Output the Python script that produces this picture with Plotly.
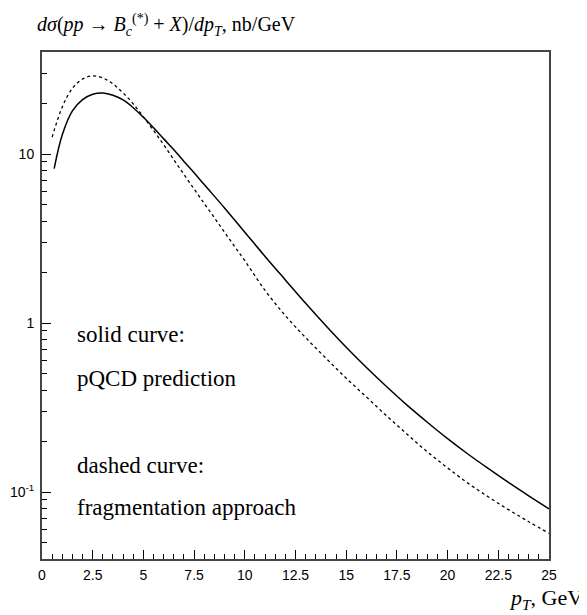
import plotly.graph_objects as go

# pT grid (GeV) and cross sections (nb/GeV)
pt_solid = [0.6, 1.0, 1.5, 2.0, 2.5, 3.0, 3.5, 4.0, 4.5, 5.0, 5.5, 6.0, 6.5, 7.0, 7.5, 8.0,
            9.0, 10.0, 11.0, 12.0, 13.0, 14.0, 15.0, 16.0, 17.0, 18.0, 19.0, 20.0, 21.0,
            22.0, 23.0, 24.0, 25.0]
sigma_pqcd = [8.2, 13.0, 18.0, 21.0, 22.6, 23.0, 22.3, 20.9, 18.8, 16.5, 14.3, 12.3, 10.6,
              9.05, 7.75, 6.6, 4.8, 3.45, 2.48, 1.8, 1.31, 0.965, 0.72, 0.546, 0.42, 0.327,
              0.259, 0.207, 0.168, 0.138, 0.114, 0.095, 0.0796]

pt_dashed = [0.5, 1.0, 1.5, 2.0, 2.5, 3.0, 3.5, 4.0, 4.5, 5.0, 5.5, 6.0, 6.5, 7.0, 7.5, 8.0,
             8.5, 9.0, 9.5, 10.0, 11.0, 12.0, 13.0, 14.0, 15.0, 16.0, 17.0, 18.0, 19.0,
             20.0, 21.0, 22.0, 23.0, 24.0, 25.0]
sigma_frag = [12.6, 19.0, 24.5, 27.8, 29.0, 28.2, 26.0, 23.0, 19.8, 16.6, 13.8, 11.35, 9.27,
              7.57, 6.21, 5.1, 4.2, 3.45, 2.84, 2.34, 1.56, 1.107, 0.82, 0.62, 0.472, 0.365,
              0.282, 0.22, 0.173, 0.139, 0.113, 0.0938, 0.0787, 0.0668, 0.057]

x_ticks = [0, 2.5, 5, 7.5, 10, 12.5, 15, 17.5, 20, 22.5, 25]
x_ticklabels = ["0", "2.5", "5", "7.5", "10", "12.5", "15", "17.5", "20", "22.5", "25"]
y_ticks = [0.1, 1, 10]
y_ticklabels = ["10<sup>-1</sup>", "1", "10"]
y_minor = [m * 10.0 ** e for e in (-2, -1, 0, 1) for m in range(2, 10)]

serif = "Liberation Serif"
sans = "Liberation Sans"

fig = go.Figure()
fig.add_trace(go.Scatter(x=pt_solid, y=sigma_pqcd, mode="lines", line_shape="spline",
                         line=dict(color="black", width=1.5), showlegend=False))
fig.add_trace(go.Scatter(x=pt_dashed, y=sigma_frag, mode="lines", line_shape="spline",
                         line=dict(color="black", width=1.3, dash="3px,3px"), showlegend=False))

axis_common = dict(showgrid=False, zeroline=False, showline=True, mirror=True,
                   linecolor="#444", linewidth=2, ticks="inside", tickcolor="black",
                   tickwidth=1, ticklen=9, automargin=False,
                   tickfont=dict(family=sans, size=14, color="black"))

fig.update_xaxes(range=[0, 25], tickvals=x_ticks, ticktext=x_ticklabels, ticklabelstandoff=2,
                 minor=dict(ticks="inside", dtick=0.5, ticklen=5, tickcolor="black"),
                 **axis_common)
fig.update_yaxes(type="log", range=[-1.396, 1.604], tickvals=y_ticks, ticktext=y_ticklabels,
                 ticklabelstandoff=3,
                 minor=dict(ticks="inside", tickvals=y_minor, ticklen=5, tickcolor="black"),
                 **axis_common)

# title and axis label as free text
fig.add_annotation(xref="paper", yref="paper", x=-0.014, y=1.053, xanchor="left", yanchor="middle",
                   text="<i>dσ</i>(<i>pp</i> → <i>B</i><sub><i>c</i></sub><sup>(*)</sup> + <i>X</i>)/<i>dp</i><sub><i>T</i></sub>, nb/GeV",
                   showarrow=False, font=dict(family=serif, size=20, color="black"))
fig.add_annotation(xref="paper", yref="paper", x=1.071, y=-0.079, xanchor="right", yanchor="middle",
                   text="<i>p</i><sub><i>T</i></sub>, GeV", showarrow=False,
                   font=dict(family=serif, size=22, color="black"))

notes = [("solid curve:", 0.442), ("pQCD prediction", 0.357),
         ("dashed curve:", 0.185), ("fragmentation approach", 0.101)]
for txt, yy in notes:
    fig.add_annotation(xref="paper", yref="paper", x=0.065, y=yy, xanchor="left", yanchor="middle",
                       text=txt, showarrow=False, font=dict(family=serif, size=23, color="black"))

# page body has an 8px margin, so the figure is sized 8px smaller
fig.update_layout(width=579, height=607, margin=dict(l=34, r=38, t=44, b=56),
                  plot_bgcolor="white", paper_bgcolor="white")

fig.write_html("out.html")
